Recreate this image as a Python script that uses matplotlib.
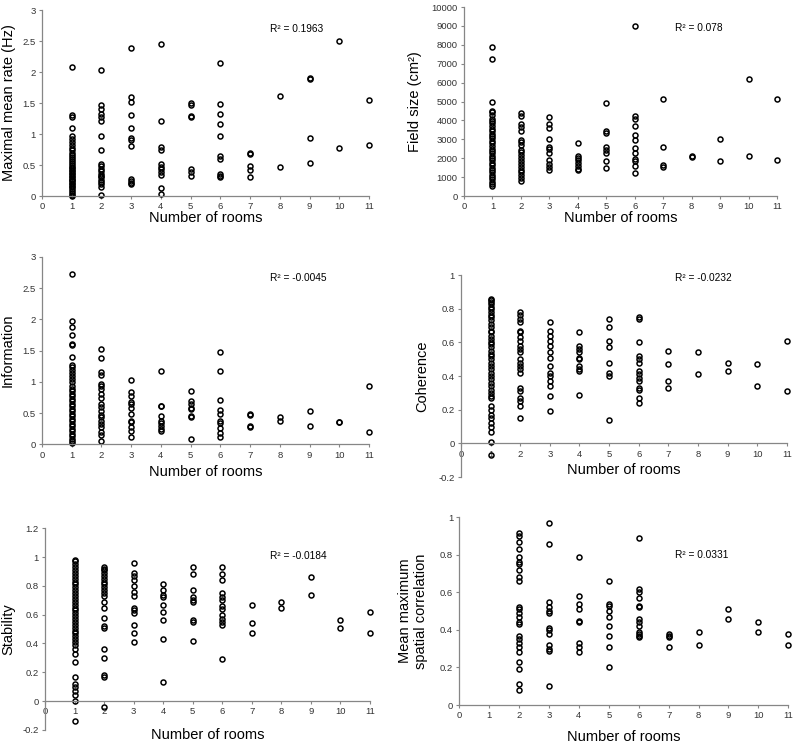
import matplotlib
matplotlib.use("Agg")
import matplotlib.pyplot as plt
from matplotlib.ticker import FuncFormatter

plt.rcParams['font.family'] = ['Liberation Sans', 'DejaVu Sans']

rooms = list(range(1, 12))

# values per number of rooms (index 0 -> 1 room, ..., index 10 -> 11 rooms)
rate = [
    [2.08, 1.30, 1.28, 1.09, 0.97, 0.92, 0.87, 0.82, 0.78, 0.74, 0.70, 0.66, 0.63, 0.60,
     0.57, 0.54, 0.50, 0.47, 0.45, 0.42, 0.40, 0.37, 0.35, 0.33, 0.30, 0.28, 0.26, 0.24,
     0.21, 0.19, 0.16, 0.14, 0.11, 0.08, 0.05, 0.02, 0.0],
    [2.04, 1.47, 1.40, 1.33, 1.27, 1.21, 0.97, 0.74, 0.52, 0.48, 0.44, 0.40, 0.36, 0.33,
     0.30, 0.26, 0.22, 0.19, 0.15, 0.01],
    [2.39, 1.60, 1.51, 1.30, 1.09, 0.93, 0.90, 0.80, 0.28, 0.24, 0.21, 0.19],
    [2.45, 1.21, 0.79, 0.75, 0.52, 0.47, 0.43, 0.39, 0.34, 0.13, 0.04],
    [1.50, 1.47, 1.29, 1.27, 0.44, 0.39, 0.33],
    [2.14, 1.49, 1.33, 1.16, 0.96, 0.65, 0.60, 0.35, 0.32, 0.30],
    [0.70, 0.67, 0.48, 0.42, 0.31],
    [1.61, 0.47],
    [1.90, 1.88, 0.94, 0.53],
    [2.50, 0.78],
    [1.55, 0.82],
]

field_size = [
    [7880, 7240, 5000, 4500, 4430, 4280, 4100, 3980, 3850, 3700, 3550, 3420, 3300, 3200,
     3050, 2900, 2780, 2650, 2500, 2380, 2250, 2120, 2000, 1880, 1750, 1620, 1500, 1380,
     1250, 1120, 1000, 880, 760, 650, 550],
    [4370, 4250, 3800, 3650, 3450, 2950, 2850, 2700, 2450, 2350, 2150, 2000, 1850, 1700,
     1550, 1400, 1250, 1100, 950, 780],
    [4200, 3800, 3600, 3030, 2600, 2500, 2300, 1900, 1700, 1550, 1350],
    [2800, 2100, 2000, 1900, 1750, 1600, 1430, 1350],
    [4900, 3430, 3330, 2600, 2450, 2300, 1850, 1500],
    [9000, 4250, 4100, 3700, 3250, 2950, 2550, 2300, 1950, 1850, 1600, 1230],
    [5120, 2580, 1620, 1550],
    [2100, 2050],
    [3030, 1850],
    [6200, 2100],
    [5120, 1900],
]

information = [
    [2.72, 1.98, 1.87, 1.75, 1.61, 1.59, 1.39, 1.27, 1.23, 1.19, 1.14, 1.09, 1.04, 0.99,
     0.94, 0.89, 0.85, 0.81, 0.77, 0.73, 0.69, 0.65, 0.61, 0.57, 0.53, 0.49, 0.45, 0.41,
     0.37, 0.33, 0.29, 0.25, 0.21, 0.17, 0.13, 0.09, 0.05, 0.02],
    [1.53, 1.38, 1.16, 1.11, 0.97, 0.93, 0.88, 0.80, 0.74, 0.65, 0.59, 0.54, 0.47, 0.44,
     0.38, 0.33, 0.28, 0.19, 0.15, 0.06],
    [1.03, 0.84, 0.78, 0.68, 0.64, 0.58, 0.48, 0.38, 0.35, 0.27, 0.21, 0.11],
    [1.18, 0.62, 0.61, 0.46, 0.38, 0.34, 0.29, 0.25, 0.21],
    [0.85, 0.70, 0.64, 0.58, 0.56, 0.46, 0.44, 0.09],
    [1.48, 1.18, 0.71, 0.55, 0.49, 0.37, 0.34, 0.26, 0.18, 0.12],
    [0.49, 0.47, 0.30, 0.27],
    [0.43, 0.37],
    [0.53, 0.29],
    [0.36, 0.35],
    [0.93, 0.20],
]

coherence = [
    [0.86, 0.85, 0.84, 0.83, 0.81, 0.80, 0.78, 0.76, 0.75, 0.73, 0.71, 0.69, 0.67, 0.66,
     0.64, 0.62, 0.60, 0.59, 0.57, 0.55, 0.53, 0.52, 0.50, 0.48, 0.46, 0.44, 0.42, 0.40,
     0.38, 0.36, 0.34, 0.32, 0.30, 0.28, 0.27, 0.22, 0.20, 0.17, 0.15, 0.12, 0.10, 0.07,
     0.01, -0.07],
    [0.78, 0.76, 0.74, 0.72, 0.67, 0.66, 0.63, 0.61, 0.58, 0.56, 0.54, 0.50, 0.48, 0.46,
     0.44, 0.42, 0.33, 0.31, 0.27, 0.25, 0.22, 0.15],
    [0.72, 0.67, 0.64, 0.61, 0.58, 0.54, 0.51, 0.46, 0.42, 0.40, 0.37, 0.34, 0.28, 0.19],
    [0.66, 0.58, 0.56, 0.54, 0.51, 0.50, 0.46, 0.44, 0.43, 0.29],
    [0.74, 0.69, 0.61, 0.57, 0.48, 0.42, 0.40, 0.14],
    [0.75, 0.74, 0.60, 0.52, 0.50, 0.48, 0.43, 0.41, 0.39, 0.37, 0.33, 0.32, 0.27, 0.24],
    [0.55, 0.47, 0.37, 0.33],
    [0.54, 0.41],
    [0.48, 0.43],
    [0.47, 0.34],
    [0.61, 0.31],
]

stability = [
    [0.98, 0.97, 0.95, 0.93, 0.91, 0.89, 0.87, 0.85, 0.83, 0.81, 0.79, 0.77, 0.75, 0.73,
     0.71, 0.69, 0.67, 0.65, 0.63, 0.61, 0.59, 0.57, 0.55, 0.53, 0.51, 0.49, 0.47, 0.45,
     0.43, 0.41, 0.39, 0.36, 0.33, 0.27, 0.17, 0.12, 0.10, 0.07, 0.04, 0.0, -0.14],
    [0.93, 0.92, 0.91, 0.89, 0.87, 0.85, 0.83, 0.81, 0.79, 0.77, 0.75, 0.73, 0.69, 0.65,
     0.58, 0.52, 0.51, 0.36, 0.30, 0.18, 0.17, -0.04],
    [0.96, 0.89, 0.87, 0.84, 0.80, 0.76, 0.73, 0.65, 0.63, 0.61, 0.53, 0.47, 0.41],
    [0.81, 0.77, 0.74, 0.72, 0.67, 0.62, 0.56, 0.43, 0.13],
    [0.93, 0.88, 0.77, 0.72, 0.70, 0.69, 0.56, 0.55, 0.42],
    [0.93, 0.88, 0.84, 0.75, 0.72, 0.70, 0.66, 0.64, 0.60, 0.57, 0.55, 0.53, 0.29],
    [0.67, 0.54, 0.47],
    [0.69, 0.65],
    [0.86, 0.74],
    [0.56, 0.51],
    [0.62, 0.47],
]

spatial_corr = [
    [],
    [0.915, 0.90, 0.87, 0.83, 0.79, 0.76, 0.75, 0.72, 0.68, 0.66, 0.52, 0.51, 0.49, 0.47,
     0.44, 0.43, 0.37, 0.35, 0.33, 0.31, 0.28, 0.23, 0.19, 0.11, 0.08],
    [0.97, 0.86, 0.55, 0.52, 0.50, 0.49, 0.41, 0.40, 0.38, 0.32, 0.30, 0.29, 0.10],
    [0.79, 0.58, 0.54, 0.51, 0.45, 0.44, 0.33, 0.31, 0.28],
    [0.66, 0.54, 0.53, 0.50, 0.47, 0.42, 0.37, 0.31, 0.20],
    [0.89, 0.62, 0.60, 0.57, 0.53, 0.52, 0.46, 0.44, 0.42, 0.39, 0.38, 0.37, 0.36],
    [0.38, 0.37, 0.36, 0.31],
    [0.39, 0.32],
    [0.51, 0.46],
    [0.44, 0.39],
    [0.38, 0.32],
]

r2_labels = ["R² = 0.1963", "R² = 0.078", "R² = -0.0045",
             "R² = -0.0232", "R² = -0.0184", "R² = 0.0331"]

fig = plt.figure(figsize=(7.96, 7.47), dpi=100)

# panel setup: data, ylim, ytick step, ylabel, axes rect, R2 pos, ylabel x, xlabel y, x axis at zero
panels = [
    (rate, (0, 3), 0.5, "Maximal mean rate (Hz)", [0.0528, 0.7376, 0.4108, 0.249],
     (7.67, 2.69), -0.10, -0.118, False),
    (field_size, (0, 10000), 1000, "Field size (cm²)", [0.5829, 0.7376, 0.3932, 0.253],
     (7.42, 8900), -0.157, -0.116, False),
    (information, (0, 3), 0.5, "Information", [0.0528, 0.4052, 0.4108, 0.2511],
     (7.67, 2.66), -0.104, -0.147, False),
    (coherence, (-0.2, 1), 0.2, "Coherence", [0.5791, 0.3614, 0.4095, 0.2704],
     (7.22, 0.98), -0.12, 0.035, True),
    (stability, (-0.2, 1.2), 0.2, "Stability", [0.0565, 0.023, 0.4083, 0.2697],
     (7.62, 1.01), -0.114, -0.026, True),
    (spatial_corr, (0, 1), 0.2, "Mean maximum\nspatial correlation",
     [0.577, 0.0562, 0.4133, 0.2513], (7.21, 0.80), -0.14, -0.17, False),
]

axis_col = "#868686"
fmt = FuncFormatter(lambda v, p: f"{round(v, 6):g}")

for i, (vals, ylim, step, ylab, rect, r2pos, ylx, xly, at_zero) in enumerate(panels):
    ax = fig.add_axes(rect)
    for room, ys in zip(rooms, vals):
        ax.plot([room] * len(ys), ys, linestyle="none", marker="o", ms=3.6,
                mfc="none", mec="black", mew=1.1, clip_on=False)
    ax.set_xlim(0, 11)
    ax.set_ylim(*ylim)
    ax.set_xticks(range(0, 12))
    nt = int(round((ylim[1] - ylim[0]) / step))
    ax.set_yticks([ylim[0] + k * step for k in range(nt + 1)])
    ax.yaxis.set_major_formatter(fmt)
    for s in ["top", "right"]:
        ax.spines[s].set_visible(False)
    for s in ["left", "bottom"]:
        ax.spines[s].set_color(axis_col)
        ax.spines[s].set_linewidth(0.9)
    if at_zero:
        ax.spines["bottom"].set_position(("data", 0))
    ax.tick_params(axis="both", direction="out", length=2.5, width=0.8, color=axis_col,
                   labelsize=6.8, labelcolor="#333333", pad=2)
    ax.text(r2pos[0], r2pos[1], r2_labels[i], fontsize=7.3, va="center", ha="left")
    ax.text(ylx, 0.5, ylab, rotation=90, fontsize=10.5, ha="center", va="center",
            transform=ax.transAxes)
    ax.text(0.5, xly, "Number of rooms", fontsize=10.5, ha="center", va="center",
            transform=ax.transAxes)

fig.savefig("out.png", dpi=100)
